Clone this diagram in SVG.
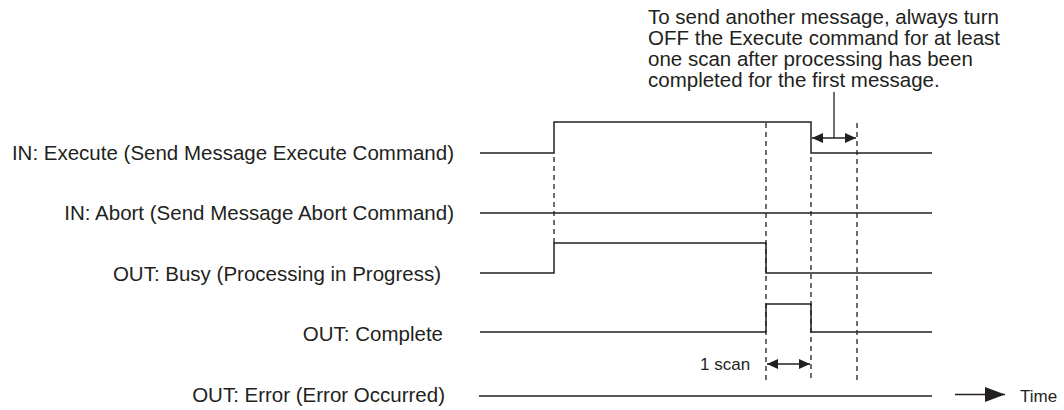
<svg xmlns="http://www.w3.org/2000/svg" width="1064" height="410" viewBox="0 0 1064 410">
<style>
  .lbl { font-family: "Liberation Sans", Arial, sans-serif; font-size: 20.5px; fill: #231f20; }
  .sm { font-family: "Liberation Sans", Arial, sans-serif; font-size: 17px; fill: #231f20; }
  .sig { fill: none; stroke: #231f20; stroke-width: 1.5; }
  .dash { fill: none; stroke: #231f20; stroke-width: 1.3; stroke-dasharray: 5 4; }
  .dim { fill: none; stroke: #231f20; stroke-width: 1.3; }
</style>
<defs>
  <marker id="ah" viewBox="0 0 11 10" refX="11" refY="5" markerWidth="11" markerHeight="10" markerUnits="userSpaceOnUse" orient="auto-start-reverse">
    <path d="M0,0 L11,5 L0,10 Z" fill="#231f20"/>
  </marker>
  <marker id="ahT" viewBox="0 0 20 15" refX="20" refY="7.5" markerWidth="20" markerHeight="15" markerUnits="userSpaceOnUse" orient="auto">
    <path d="M0,0 L20,7.5 L0,15 Z" fill="#231f20"/>
  </marker>
</defs>
<rect width="1064" height="410" fill="#ffffff"/>
<g id="note">
  <text class="lbl" x="648" y="24">To send another message, always turn</text>
  <text class="lbl" x="648" y="45">OFF the Execute command for at least</text>
  <text class="lbl" x="648" y="66">one scan after processing has been</text>
  <text class="lbl" x="648" y="87">completed for the first message.</text>
</g>
<g id="labels">
  <text class="lbl" x="454" y="160" text-anchor="end">IN: Execute (Send Message Execute Command)</text>
  <text class="lbl" x="454" y="220" text-anchor="end">IN: Abort (Send Message Abort Command)</text>
  <text class="lbl" x="441" y="281" text-anchor="end">OUT: Busy (Processing in Progress)</text>
  <text class="lbl" x="443" y="341" text-anchor="end">OUT: Complete</text>
  <text class="lbl" x="445" y="402" text-anchor="end">OUT: Error (Error Occurred)</text>
</g>
<g id="signals">
  <polyline id="sig-execute" class="sig" points="480,153 554,153 554,122 811,122 811,153 932,153"/>
  <polyline id="sig-abort" class="sig" points="480,213 932,213"/>
  <polyline id="sig-busy" class="sig" points="480,273 554,273 554,243 766,243 766,273 932,273"/>
  <polyline id="sig-complete" class="sig" points="480,332 766,332 766,304 811,304 811,332 932,332"/>
  <polyline id="sig-error" class="sig" points="479,396 932,396"/>
</g>
<g id="connectors">
  <line class="dash" x1="554" y1="157" x2="554" y2="243"/>
  <line class="dash" x1="766" y1="123" x2="766" y2="380"/>
  <line class="dash" x1="811" y1="157" x2="811" y2="380"/>
  <line class="dash" x1="857" y1="123" x2="857" y2="380"/>
  <line class="dim" x1="834" y1="92" x2="834" y2="138"/>
  <line class="dim" x1="812" y1="138" x2="856" y2="138" marker-start="url(#ah)" marker-end="url(#ah)"/>
  <line class="dim" x1="767" y1="364" x2="810" y2="364" marker-start="url(#ah)" marker-end="url(#ah)"/>
  <line class="dim" x1="955" y1="394.5" x2="1005" y2="394.5" stroke-width="3" marker-end="url(#ahT)"/>
</g>
<g id="time-labels">
  <text class="sm" x="700" y="370">1 scan</text>
  <text class="sm" x="1020" y="402">Time</text>
</g>
</svg>
